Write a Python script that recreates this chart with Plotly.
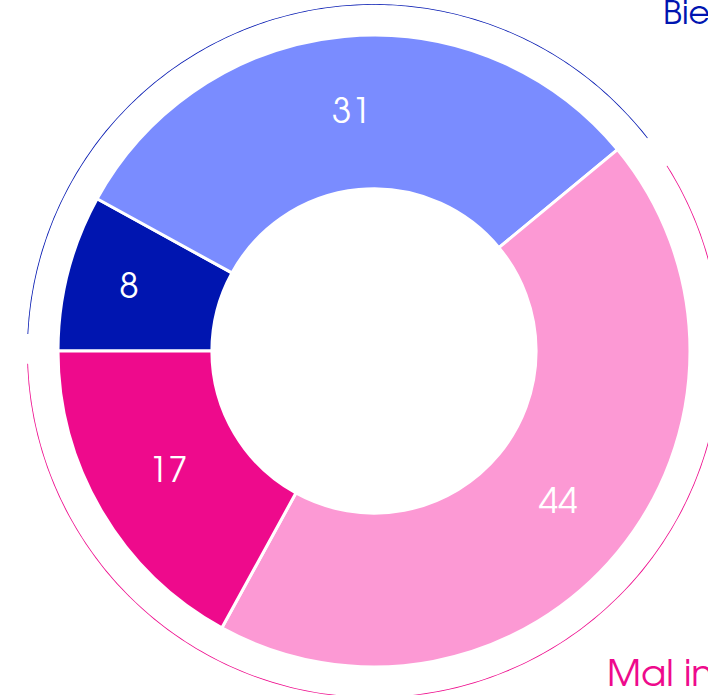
import plotly.graph_objects as go
import numpy as np

# ---- data ----
categories = ["Muy bien informado", "Bien informado", "Mal informado", "Muy mal informado"]
values = [8, 31, 44, 17]
slice_colors = ["#0015B0", "#7A8CFF", "#FC99D4", "#EE0A8C"]

groups = ["Bien informado", "Mal informado"]
group_members = [[0, 1], [2, 3]]
group_colors = ["#0015B0", "#EE0A8C"]

# ---- layout constants (pixels) ----
W, H = 748, 700
CX, CY = 374, 351
R_PIE = 316
R_ARC = 347
FONT = "Century Gothic, 'URW Gothic', 'TeX Gyre Adventor', Lato, sans-serif"
# arc end paddings (degrees) per group: (start pad, end pad)
arc_pads = [(2.8, -1.7), (7.3, 2.1)]

fig = go.Figure()

fig.add_trace(go.Pie(
    labels=categories,
    values=values,
    sort=False,
    direction="clockwise",
    rotation=270,
    hole=0.513,
    marker=dict(colors=slice_colors, line=dict(color="white", width=3)),
    textinfo="value",
    textposition="inside",
    insidetextorientation="horizontal",
    textfont=dict(family=FONT, size=35, color="white"),
    showlegend=False,
    hoverinfo="label+value",
    domain=dict(x=[(CX - R_PIE) / W, (CX + R_PIE) / W],
                y=[(H - CY - R_PIE) / H, (H - CY + R_PIE) / H]),
))

# outer thin arcs computed from group totals
total = sum(values)
start = 0.0
for gi, members in enumerate(group_members):
    share = sum(values[i] for i in members) / total * 360.0
    a0 = start + arc_pads[gi][0]
    a1 = start + share - arc_pads[gi][1]
    theta = np.linspace(a0, a1, 200)
    fig.add_trace(go.Scatterpolar(
        r=np.ones_like(theta),
        theta=theta,
        mode="lines",
        line=dict(color=group_colors[gi], width=1.7),
        cliponaxis=False,
        showlegend=False,
        hoverinfo="skip",
    ))
    start += share

fig.update_layout(
    width=W, height=H,
    margin=dict(l=0, r=0, t=0, b=0),
    paper_bgcolor="white",
    plot_bgcolor="white",
    polar=dict(
        domain=dict(x=[(CX - R_ARC) / W, (CX + R_ARC) / W],
                    y=[(H - CY - R_ARC) / H, (H - CY + R_ARC) / H]),
        bgcolor="rgba(0,0,0,0)",
        radialaxis=dict(visible=False, range=[0, 1]),
        angularaxis=dict(visible=False, rotation=180, direction="clockwise"),
    ),
    annotations=[
        dict(text=groups[0], x=661 / W, y=1 - 14 / H, xref="paper", yref="paper",
             xanchor="left", yanchor="middle", showarrow=False,
             font=dict(family=FONT, size=33, color=group_colors[0])),
        dict(text=groups[1], x=605 / W, y=1 - 676 / H, xref="paper", yref="paper",
             xanchor="left", yanchor="middle", showarrow=False,
             font=dict(family=FONT, size=37, color=group_colors[1])),
    ],
)

fig.write_html("out.html",
               config={"displayModeBar": False},
               post_script="document.body.style.margin='0';document.body.style.overflow='hidden';")
